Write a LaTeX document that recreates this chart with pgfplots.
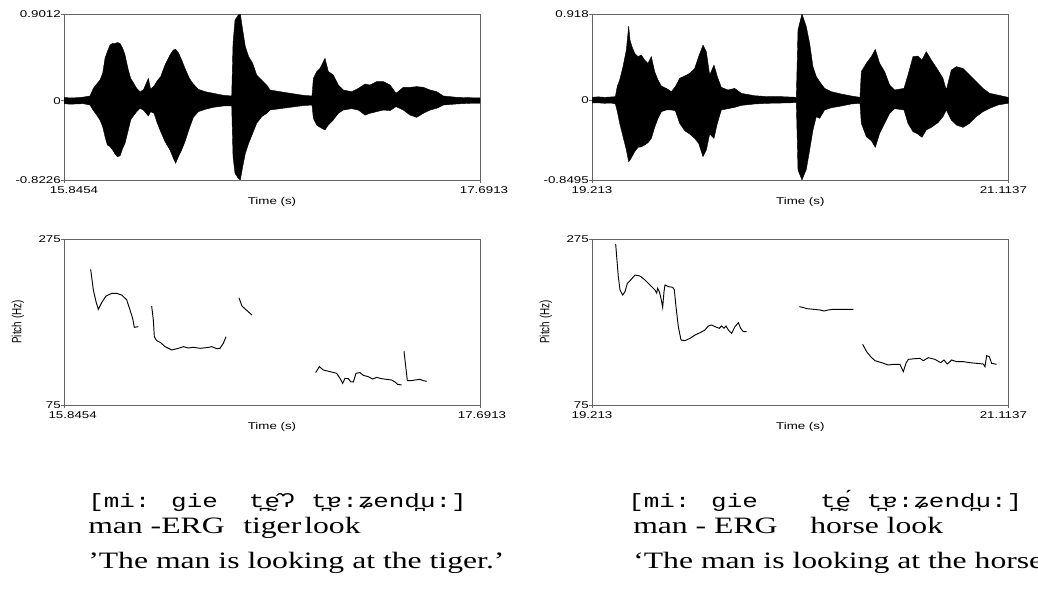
\documentclass[border=0pt]{standalone}
\usepackage{pgfplots}
\pgfplotsset{compat=1.18}
\usepackage{pgfplotstable}
\usepackage{graphicx}
\usepackage{fontspec}
\setmainfont{Liberation Serif}
\newfontfamily\sansf{Liberation Sans}
\newfontfamily\ipaf{Liberation Mono}
\newcommand{\hs}[1]{\scalebox{1.35}[1]{#1}}
\newcommand{\tf}{\sansf\fontsize{7.4}{8}\selectfont}

% waveform envelopes: upper edge left to right, then lower edge right to left
\pgfplotstableread{
t v
15.8454 0.035
15.8700 0.030
15.9017 0.032
15.9300 0.038
15.9608 0.050
15.9756 0.129
15.9904 0.174
16.0052 0.216
16.0170 0.285
16.0274 0.441
16.0377 0.510
16.0496 0.579
16.0614 0.597
16.0718 0.597
16.0821 0.604
16.0939 0.597
16.1058 0.545
16.1161 0.476
16.1309 0.320
16.1413 0.233
16.1531 0.188
16.1679 0.129
16.1827 0.095
16.1975 0.112
16.2197 0.233
16.2300 0.119
16.2448 0.154
16.2596 0.209
16.2744 0.251
16.2936 0.372
16.3158 0.476
16.3306 0.528
16.3410 0.534
16.3528 0.500
16.3676 0.424
16.3824 0.337
16.4016 0.233
16.4194 0.174
16.4415 0.119
16.4711 0.095
16.5081 0.078
16.5525 0.057
16.5895 0.050
16.5954 0.597
16.6042 0.839
16.6190 0.891
16.6279 0.901
16.6383 0.735
16.6501 0.562
16.6649 0.459
16.6826 0.389
16.7004 0.268
16.7226 0.216
16.7448 0.164
16.7595 0.112
16.8039 0.095
16.8482 0.078
16.9074 0.057
16.9459 0.050
16.9518 0.233
16.9666 0.303
16.9814 0.337
17.0035 0.441
17.0184 0.303
17.0405 0.268
17.0627 0.164
17.0849 0.112
17.1219 0.095
17.1515 0.129
17.1811 0.174
17.2032 0.164
17.2328 0.199
17.2624 0.199
17.2920 0.164
17.3186 0.078
17.3511 0.140
17.3807 0.140
17.4103 0.147
17.4399 0.140
17.4695 0.112
17.4991 0.095
17.5286 0.050
17.5878 0.036
17.6470 0.032
17.6913 0.030
17.6913 -0.026
17.6470 -0.026
17.5878 -0.033
17.5286 -0.044
17.4991 -0.078
17.4695 -0.096
17.4399 -0.130
17.4103 -0.172
17.3807 -0.148
17.3511 -0.096
17.3186 -0.061
17.2920 -0.102
17.2624 -0.096
17.2328 -0.113
17.2032 -0.130
17.1811 -0.148
17.1515 -0.096
17.1219 -0.082
17.0849 -0.096
17.0627 -0.130
17.0405 -0.199
17.0184 -0.251
17.0035 -0.303
16.9814 -0.276
16.9666 -0.251
16.9518 -0.182
16.9459 -0.044
16.9074 -0.050
16.8482 -0.068
16.8039 -0.082
16.7595 -0.096
16.7448 -0.130
16.7226 -0.165
16.7004 -0.234
16.6826 -0.338
16.6649 -0.441
16.6501 -0.546
16.6383 -0.684
16.6279 -0.822
16.6190 -0.805
16.6042 -0.753
16.5954 -0.580
16.5895 -0.054
16.5525 -0.054
16.5081 -0.068
16.4711 -0.089
16.4415 -0.113
16.4194 -0.172
16.4016 -0.286
16.3824 -0.424
16.3676 -0.511
16.3528 -0.580
16.3410 -0.649
16.3306 -0.597
16.3158 -0.511
16.2936 -0.424
16.2744 -0.320
16.2596 -0.234
16.2448 -0.130
16.2300 -0.113
16.2197 -0.158
16.1975 -0.096
16.1827 -0.078
16.1679 -0.113
16.1531 -0.158
16.1413 -0.199
16.1309 -0.303
16.1161 -0.442
16.1058 -0.494
16.0939 -0.573
16.0821 -0.580
16.0718 -0.552
16.0614 -0.511
16.0496 -0.476
16.0377 -0.459
16.0274 -0.372
16.0170 -0.269
16.0052 -0.200
15.9904 -0.148
15.9756 -0.100
15.9608 -0.044
15.9300 -0.030
15.9017 -0.033
15.8700 -0.035
15.8454 -0.030
}\wavL

\pgfplotstableread{
t v
19.2130 0.031
19.2400 0.036
19.2708 0.031
19.3000 0.035
19.3195 0.038
19.3286 0.151
19.3392 0.215
19.3544 0.357
19.3696 0.535
19.3803 0.790
19.3864 0.641
19.3955 0.570
19.4077 0.499
19.4229 0.464
19.4381 0.481
19.4533 0.428
19.4685 0.393
19.4837 0.464
19.4989 0.304
19.5141 0.215
19.5293 0.151
19.5521 0.126
19.5749 0.091
19.5931 0.144
19.6129 0.233
19.6357 0.258
19.6585 0.286
19.6813 0.339
19.6995 0.464
19.7193 0.588
19.7345 0.517
19.7497 0.268
19.7695 0.375
19.7847 0.251
19.8030 0.137
19.8334 0.109
19.8638 0.126
19.8942 0.073
19.9550 0.048
20.0158 0.038
20.0766 0.038
20.1450 0.031
20.1526 0.747
20.1708 0.918
20.1906 0.783
20.2058 0.606
20.2210 0.357
20.2362 0.251
20.2514 0.197
20.2742 0.126
20.3046 0.091
20.3503 0.066
20.3959 0.045
20.4354 0.031
20.4415 0.304
20.4643 0.393
20.4871 0.464
20.5053 0.542
20.5251 0.393
20.5479 0.304
20.5707 0.162
20.5935 0.109
20.6361 0.126
20.6543 0.268
20.6771 0.464
20.6999 0.470
20.7181 0.428
20.7379 0.517
20.7608 0.428
20.7912 0.321
20.8140 0.233
20.8292 0.109
20.8520 0.321
20.8748 0.357
20.9050 0.339
20.9356 0.268
20.9660 0.197
20.9964 0.126
21.0268 0.073
21.0648 0.055
21.1104 0.031
21.1137 0.030
21.1137 -0.030
21.1104 -0.033
21.0648 -0.051
21.0268 -0.087
20.9964 -0.122
20.9660 -0.175
20.9356 -0.246
20.9050 -0.289
20.8748 -0.264
20.8520 -0.211
20.8292 -0.104
20.8140 -0.175
20.7912 -0.239
20.7608 -0.289
20.7379 -0.317
20.7181 -0.395
20.6999 -0.360
20.6771 -0.335
20.6543 -0.246
20.6361 -0.104
20.5935 -0.090
20.5707 -0.140
20.5479 -0.246
20.5251 -0.353
20.5053 -0.502
20.4871 -0.431
20.4643 -0.388
20.4415 -0.246
20.4354 -0.033
20.3959 -0.040
20.3503 -0.062
20.3046 -0.080
20.2742 -0.104
20.2514 -0.193
20.2362 -0.175
20.2210 -0.317
20.2058 -0.530
20.1906 -0.736
20.1708 -0.8495
20.1526 -0.743
20.1450 -0.026
20.0766 -0.030
20.0158 -0.033
19.9550 -0.040
19.8942 -0.055
19.8638 -0.076
19.8334 -0.090
19.8030 -0.104
19.7847 -0.246
19.7695 -0.406
19.7497 -0.360
19.7345 -0.530
19.7193 -0.601
19.6995 -0.459
19.6813 -0.406
19.6585 -0.360
19.6357 -0.324
19.6129 -0.246
19.5931 -0.111
19.5749 -0.104
19.5521 -0.104
19.5293 -0.122
19.5141 -0.193
19.4989 -0.289
19.4837 -0.406
19.4685 -0.452
19.4533 -0.477
19.4381 -0.495
19.4229 -0.502
19.4077 -0.548
19.3955 -0.601
19.3864 -0.637
19.3803 -0.655
19.3696 -0.530
19.3544 -0.388
19.3392 -0.246
19.3286 -0.122
19.3195 -0.040
19.3000 -0.030
19.2708 -0.033
19.2400 -0.028
19.2130 -0.030
}\wavR

\pgfplotstableread{
t f
15.9637 238.5
15.9756 213.6
15.9874 199.5
15.9978 190.3
16.0125 198.3
16.0318 206.3
16.0569 209.5
16.0791 209.5
16.1013 207.5
16.1235 201.8
16.1383 189.5
16.1501 179.4
16.1575 168.6
16.1752 169.4
nan nan
16.2344 194.3
16.2418 177.4
16.2462 157.3
16.2566 152.5
16.2743 150.1
16.2936 145.3
16.3232 141.3
16.3527 143.3
16.3749 145.3
16.3971 143.7
16.4193 144.5
16.4489 143.3
16.4785 144.1
16.5006 145.3
16.5228 142.9
16.5376 143.3
16.5524 149.3
16.5642 157.3
nan nan
16.6217 204.3
16.6350 194.3
16.6542 189.5
16.6794 183.4
nan nan
16.9621 114.0
16.9784 121.2
16.9961 117.2
17.0257 115.2
17.0553 113.2
17.0701 107.1
17.0819 101.1
17.0923 107.1
17.1071 106.7
17.1174 103.1
17.1293 102.7
17.1411 113.2
17.1588 114.0
17.1736 110.7
17.1958 109.1
17.2151 106.3
17.2328 108.3
17.2550 106.7
17.2772 105.9
17.2994 105.1
17.3141 102.7
17.3260 99.9
17.3437 99.1
nan nan
17.3541 139.7
17.3689 104.3
17.3837 104.3
17.4029 105.1
17.4251 105.9
17.4399 104.3
17.4547 103.5
}\pitL

\pgfplotstableread{
t f
19.3210 269.0
19.3255 253.7
19.3331 229.6
19.3407 213.6
19.3529 207.5
19.3635 211.5
19.3742 221.6
19.3894 225.6
19.4091 231.6
19.4319 230.4
19.4547 225.6
19.4776 219.6
19.5004 213.6
19.5080 209.9
19.5125 215.6
19.5201 211.5
19.5292 201.8
19.5353 192.7
19.5414 211.5
19.5460 219.6
19.5612 217.6
19.5809 216.8
19.5885 213.9
19.5961 193.5
19.6068 169.4
19.6189 153.3
19.6372 152.5
19.6600 155.3
19.6828 159.3
19.7056 162.1
19.7284 165.4
19.7436 170.2
19.7588 171.4
19.7740 169.4
19.7938 167.4
19.8044 170.2
19.8151 167.4
19.8242 170.2
19.8348 165.4
19.8500 161.3
19.8653 169.4
19.8805 174.2
19.8911 167.4
19.9033 163.4
19.9185 163.4
nan nan
20.1587 193.5
20.1739 192.7
20.1921 191.1
20.2225 190.3
20.2530 189.5
20.2712 188.3
20.2910 189.5
20.3138 190.3
20.3442 190.3
20.3746 190.3
20.4050 190.3
nan nan
20.4476 148.1
20.4658 139.3
20.4841 133.2
20.5038 128.4
20.5342 126.0
20.5646 123.2
20.5874 124.0
20.6179 124.0
20.6331 115.2
20.6452 125.2
20.6559 130.0
20.6863 130.8
20.7091 131.2
20.7243 128.4
20.7471 132.0
20.7775 130.0
20.8033 126.0
20.8185 129.2
20.8337 124.4
20.8459 127.2
20.8535 129.2
20.8764 127.2
20.9067 127.2
20.9371 126.0
20.9675 125.2
20.9979 124.4
21.0056 121.2
21.0132 134.4
21.0253 133.2
21.0360 125.2
21.0584 124.0
}\pitR

\pgfplotsset{praat/.style={
  scale only axis, height=124.5pt, anchor=south west,
  axis line style={black!60, line width=0.6pt},
  tick style={black!60, line width=0.6pt},
  tick align=outside, major tick length=2.25pt,
  xtick pos=bottom, ytick pos=left,
  xticklabel style={anchor=north, inner sep=0pt, yshift=-2.5pt, font=\tf},
  yticklabel style={anchor=east, inner sep=0pt, font=\tf},
  xlabel style={at={(axis description cs:0.5,0)}, anchor=center, yshift=-16.5pt, font=\tf},
  xlabel={\hs{Time (s)}},
}}

\begin{document}
\begin{tikzpicture}
\path[use as bounding box] (0,0) rectangle (778.5pt,442.5pt);

% left waveform
\begin{axis}[praat, at={(48pt,307.5pt)}, width=312pt,
  xmin=15.8454, xmax=17.6913, ymin=-0.8226, ymax=0.9012,
  xtick={15.8454,17.6913},
  xticklabels={\hspace*{15pt}\hs{15.8454},\hspace*{6pt}\hs{17.6913}},
  ytick={-0.8226,0,0.9012}, yticklabels={\hs{-0.8226},\hs{0},\hs{0.9012}}]
\addplot[fill=black, draw=black, line width=0.3pt] table[x=t,y=v]{\wavL} -- cycle;
\end{axis}

% right waveform
\begin{axis}[praat, at={(444pt,307.5pt)}, width=312.5pt,
  xmin=19.213, xmax=21.1137, ymin=-0.8495, ymax=0.918,
  xtick={19.213,21.1137},
  xticklabels={\hs{19.213},\hs{21.1137}\hspace*{8pt}},
  ytick={-0.8495,0,0.918}, yticklabels={\hs{-0.8495},\hs{0},\hs{0.918}}]
\addplot[fill=black, draw=black, line width=0.3pt] table[x=t,y=v]{\wavR} -- cycle;
\end{axis}

% left pitch
\begin{axis}[praat, at={(48pt,138.75pt)}, width=312pt,
  xmin=15.8454, xmax=17.6913, ymin=75, ymax=275,
  xtick={15.8454,17.6913},
  xticklabels={\hspace*{13pt}\hs{15.8454},\hspace*{3pt}\hs{17.6913}},
  ytick={75,275}, yticklabels={\hs{75},\hs{275}}, unbounded coords=jump]
\addplot[black, line width=0.7pt] table[x=t,y=f]{\pitL};
\end{axis}

% right pitch
\begin{axis}[praat, at={(444pt,138.75pt)}, width=312.5pt,
  xmin=19.213, xmax=21.1137, ymin=75, ymax=275,
  xtick={19.213,21.1137},
  xticklabels={\hs{19.213},\hs{21.1137}\hspace*{8pt}},
  ytick={75,275}, yticklabels={\hs{75},\hs{275}}, unbounded coords=jump]
\addplot[black, line width=0.7pt] table[x=t,y=f]{\pitR};
\end{axis}

\node[inner sep=0pt, font=\tf] at (13.5pt,201pt) {\hs{\rotatebox{90}{Pitch (Hz)}}};
\node[inner sep=0pt, font=\tf] at (409.5pt,201pt) {\hs{\rotatebox{90}{Pitch (Hz)}}};

% glosses
\newcommand{\ipa}{\ipaf\fontsize{14.4}{16}\selectfont}
\newcommand{\rom}{\fontsize{17.6}{20}\selectfont}
\node[anchor=base west, inner sep=0pt] at (66pt,62.25pt) {\hs{\ipa [mi: gie~~t̪ḛ̂ʔ t̪ɐ:ʑend̪u:]}};
\node[anchor=base west, inner sep=0pt] at (66pt,42.75pt) {\hs{\rom man -ERG}};
\node[anchor=base west, inner sep=0pt] at (182.25pt,42.75pt) {\hs{\rom tiger}};
\node[anchor=base west, inner sep=0pt] at (228pt,42.75pt) {\hs{\rom look}};
\node[anchor=base west, inner sep=0pt] at (66pt,16.5pt) {\hs{\rom ’The man is looking at the tiger.’}};

\node[anchor=base west, inner sep=0pt] at (471pt,62.25pt) {\hs{\ipa [mi: gie~~~~t̪ḛ́ t̪ɐ:ʑend̪u:]}};
\node[anchor=base west, inner sep=0pt] at (474.75pt,42.75pt) {\hs{\rom man - ERG}};
\node[anchor=base west, inner sep=0pt] at (607.5pt,42.75pt) {\hs{\rom horse look}};
\node[anchor=base west, inner sep=0pt] at (474.75pt,16.5pt) {\hs{\rom ‘The man is looking at the horse.’}};
\end{tikzpicture}
\end{document}
